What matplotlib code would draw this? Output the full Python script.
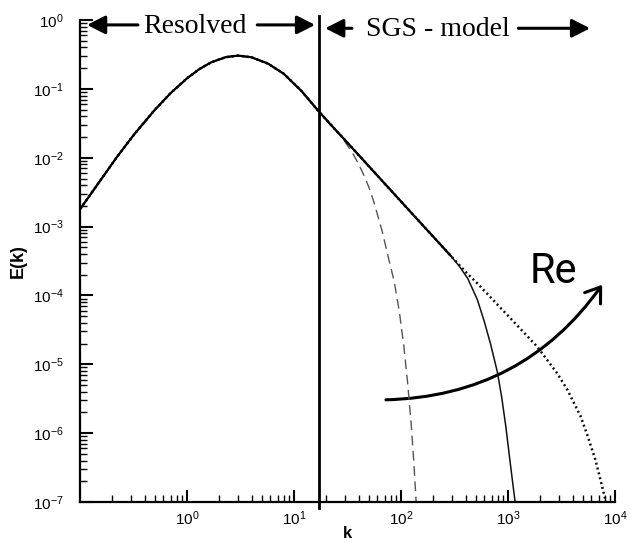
import matplotlib

matplotlib.use("Agg")
import matplotlib.pyplot as plt
import numpy as np
from matplotlib.patches import FancyArrowPatch
from matplotlib.ticker import LogLocator, NullFormatter

# part of the spectrum shared by all three curves
K_COMMON = [0.1, 0.126, 0.22, 0.32, 0.49, 0.7, 1.0, 1.3, 1.68, 2.3, 3.0, 4.0, 5.7, 8.0,
            11.8, 17, 25]
E_COMMON = [1.8e-3, 2.99e-3, 1.02e-2, 2.19e-2, 4.82e-2, 8.69e-2, 0.143, 0.194, 0.244, 0.29,
            0.305, 0.288, 0.233, 0.166, 0.092, 0.047, 0.0243]

# low-Re cutoff (dashed)
K_DASHED = [29, 35, 40, 45, 50, 55, 66, 77, 86, 96, 106, 115, 124, 131, 138]
E_DASHED = [1.82e-2, 1.18e-2, 8.1e-3, 5.5e-3, 3.7e-3, 2.4e-3, 8.9e-4, 3.24e-4, 1.6e-4,
            5.9e-5, 1.8e-5, 5.3e-6, 1.35e-6, 4.0e-7, 1.0e-7]

# inertial range up to where the two higher-Re curves part
K_INERTIAL = [29, 60, 120, 200, 290]
E_INERTIAL = [1.9e-2, 5.5e-3, 1.69e-3, 7.1e-4, 3.78e-4]

# mid-Re cutoff (thin solid)
K_SOLID = [350, 420, 515, 600, 685, 791, 870, 950, 1040, 1160]
E_SOLID = [2.65e-4, 1.75e-4, 8.7e-5, 4.1e-5, 1.96e-5, 7.8e-6, 3.3e-6, 1.25e-6, 3.9e-7, 1.0e-7]

# high-Re cutoff (dotted)
K_DOTTED = [400, 515, 981, 1400, 1868, 2870, 3560, 4730, 5470, 6530, 7280, 8100]
E_DOTTED = [2.2e-4, 1.5e-4, 5.2e-5, 2.9e-5, 1.8e-5, 7.4e-6, 4.3e-6, 1.78e-6, 9.5e-7, 4.1e-7,
            2.1e-7, 1.07e-7]

K_CUT = 17  # filter width / grid cutoff

X_TICKS = [1e0, 1e1, 1e2, 1e3, 1e4]
Y_TICKS = [1e-7, 1e-6, 1e-5, 1e-4, 1e-3, 1e-2, 1e-1, 1e0]

plt.rcParams["font.family"] = ["Liberation Sans", "DejaVu Sans"]


def arrow(ax, x0, x1, y):
    ax.annotate(
        "",
        xy=(x1, y),
        xytext=(x0, y),
        xycoords="axes fraction",
        textcoords="axes fraction",
        arrowprops=dict(arrowstyle="-|>,head_length=0.55,head_width=0.28", lw=2.2,
                        color="black", mutation_scale=20, shrinkA=0, shrinkB=0),
        annotation_clip=False,
    )


def main():
    fig = plt.figure(figsize=(6.31, 5.43), dpi=100)
    ax = fig.add_axes([0.127, 0.0755, 0.848, 0.8875])

    k_main = K_COMMON + K_INERTIAL
    e_main = E_COMMON + E_INERTIAL

    ax.plot(K_COMMON + K_DASHED, E_COMMON + E_DASHED, color="#555555", lw=1.0,
            linestyle=(0, (7, 4)))
    ax.plot(k_main + K_DOTTED, e_main + E_DOTTED, color="#111111", lw=1.8,
            linestyle=(0, (0.8, 1.2)))
    ax.plot(k_main + K_SOLID, e_main + E_SOLID, color="#111111", lw=1.1)
    ax.plot(k_main, e_main, color="black", lw=1.6)

    ax.set_xscale("log")
    ax.set_yscale("log")
    ax.set_xlim(0.1, 1e4)
    ax.set_ylim(1e-7, 1e0)

    ax.plot([K_CUT, K_CUT], [-0.012, 1.008], color="black", lw=2.0,
            transform=ax.get_xaxis_transform(), clip_on=False)

    ax.set_xticks(X_TICKS)
    ax.set_yticks(Y_TICKS)
    ax.xaxis.set_minor_locator(LogLocator(base=10, subs=np.arange(2, 10), numticks=20))
    ax.yaxis.set_minor_locator(LogLocator(base=10, subs=np.arange(2, 10), numticks=20))
    ax.xaxis.set_minor_formatter(NullFormatter())
    ax.yaxis.set_minor_formatter(NullFormatter())

    for s in ["top", "right"]:
        ax.spines[s].set_visible(False)
    for s in ["left", "bottom"]:
        ax.spines[s].set_linewidth(1.6)

    ax.tick_params(which="both", direction="in", top=False, right=False, labelsize=11)
    ax.tick_params(which="major", length=9, width=1.5)
    ax.tick_params(which="minor", length=5, width=1.0)
    ax.tick_params(axis="y", pad=12)
    ax.tick_params(axis="x", pad=5)

    ax.set_xlabel("k", fontsize=12, fontweight="bold", labelpad=-1)
    ax.set_ylabel("E(k)", fontsize=13, fontweight="bold", labelpad=4)

    # region labels across the top
    serif = ["Liberation Serif", "DejaVu Serif"]
    ax.text(0.214, 0.986, "Resolved", transform=ax.transAxes, ha="center", va="center",
            fontsize=20, family=serif)
    arrow(ax, 0.108, 0.013, 0.990)
    arrow(ax, 0.331, 0.439, 0.990)
    ax.text(0.668, 0.980, "SGS - model", transform=ax.transAxes, ha="center", va="center",
            fontsize=20, family=serif)
    arrow(ax, 0.508, 0.458, 0.983)
    arrow(ax, 0.819, 0.953, 0.983)

    # hand-drawn Re arrow
    re_arrow = FancyArrowPatch((72, 3.05e-6), (7550, 1.43e-4), transform=ax.transData,
                               connectionstyle="arc3,rad=0.25",
                               arrowstyle="->,head_length=0.5,head_width=0.35",
                               mutation_scale=20, lw=2.2, color="black",
                               shrinkA=0, shrinkB=0)
    ax.add_patch(re_arrow)
    ax.text(0.884, 0.478, "Re", transform=ax.transAxes, ha="center", va="center",
            fontsize=30, family=["Roboto", "DejaVu Sans"])

    fig.savefig("out.png", dpi=100)
    plt.close(fig)


if __name__ == "__main__":
    main()
